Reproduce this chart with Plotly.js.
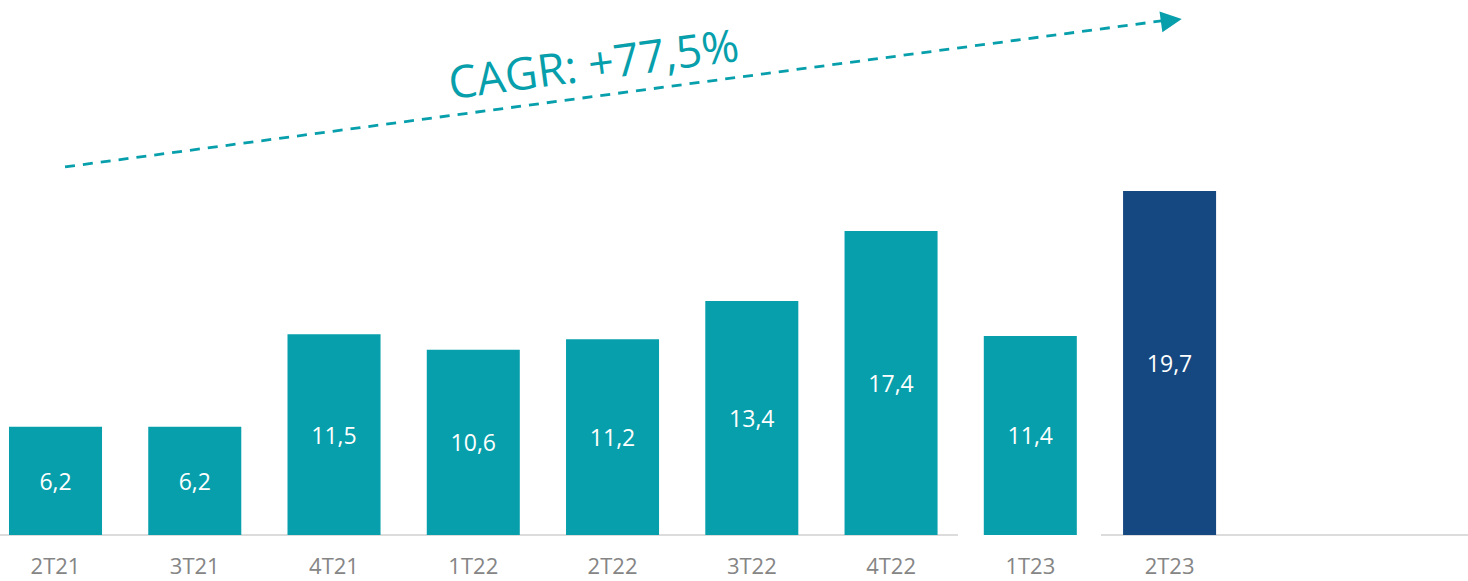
<!DOCTYPE html>
<html>
<head>
<meta charset="utf-8">
<script src="https://cdn.plot.ly/plotly-3.0.1.min.js"></script>
<style>
  html, body { margin: 0; padding: 0; background: #fff; }
  #chart { width: 1468px; height: 581px; }
</style>
</head>
<body>
<div id="chart"></div>
<script>
// Datos del gráfico
const trimestres = ['2T21', '3T21', '4T21', '1T22', '2T22', '3T22', '4T22', '1T23', '2T23'];
const valores = [6.2, 6.2, 11.5, 10.6, 11.2, 13.4, 17.4, 11.4, 19.7];
const etiquetas = ['6,2', '6,2', '11,5', '10,6', '11,2', '13,4', '17,4', '11,4', '19,7'];
const cagrTexto = 'CAGR: +77,5%';

const teal = '#079fab';
const navy = '#154880';
const colores = trimestres.map((t, i) => i === trimestres.length - 1 ? navy : teal);

const fuente = 'Open Sans, Lato, sans-serif';

const trace = {
    x: trimestres,
    y: valores,
    type: 'bar',
    width: 0.668,
    marker: { color: colores, line: { width: 0 } },
    text: etiquetas,
    textposition: 'inside',
    insidetextanchor: 'middle',
    textfont: { family: fuente, size: 23, color: '#ffffff' },
    hoverinfo: 'skip'
};

const layout = {
    width: 1468,
    height: 581,
    margin: { l: 0, r: 0, t: 0, b: 46 },
    paper_bgcolor: '#ffffff',
    plot_bgcolor: '#ffffff',
    showlegend: false,
    xaxis: {
        type: 'category',
        range: [-0.3986, 10.143],
        showgrid: false,
        zeroline: false,
        showline: false,
        ticks: '',
        tickfont: { family: fuente, size: 22, color: '#858585' },
        ticklabelstandoff: 16
    },
    yaxis: {
        range: [0, 30.63],
        visible: false,
        showgrid: false,
        zeroline: false
    },
    shapes: [
        // línea base (con hueco antes del último trimestre)
        { type: 'line', xref: 'paper', yref: 'paper', x0: 0, x1: 0.6526, y0: 0, y1: 0,
          line: { color: '#dcdcdc', width: 2 }, layer: 'below' },
        { type: 'line', xref: 'paper', yref: 'paper', x0: 0.75, x1: 1, y0: 0, y1: 0,
          line: { color: '#dcdcdc', width: 2 }, layer: 'below' },
        // flecha punteada de crecimiento
        { type: 'line', xref: 'paper', yref: 'paper', x0: 0.0443, y0: 0.688, x1: 0.7956, y1: 0.9626,
          line: { color: teal, width: 2.8, dash: '10px,8px' } }
    ],
    annotations: [
        {
            xref: 'paper', yref: 'paper', x: 0.805, y: 0.9645,
            text: '', showarrow: true, ax: -16, ay: 2.2,
            arrowhead: 2, arrowsize: 1.5, arrowwidth: 2.8, arrowcolor: teal
        },
        {
            xref: 'paper', yref: 'paper', x: 0.404, y: 0.884,
            xanchor: 'center', yanchor: 'middle',
            text: cagrTexto, showarrow: false, textangle: -7.6,
            font: { family: fuente, size: 45, color: teal }
        }
    ]
};

Plotly.newPlot('chart', [trace], layout, { displayModeBar: false, staticPlot: true });
</script>
</body>
</html>
